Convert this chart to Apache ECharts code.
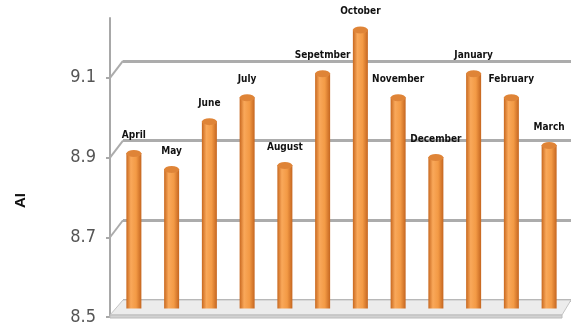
<!DOCTYPE html>
<html>
<head>
<meta charset="utf-8">
<script src="https://cdn.jsdelivr.net/npm/echarts@6/dist/echarts.min.js"></script>
<style>
  html, body { margin: 0; padding: 0; background: #fff; }
  #chart { width: 571px; height: 333px; }
</style>
</head>
<body>
<div id="chart"></div>
<script>
const months = ['April', 'May', 'June', 'July', 'August', 'Sepetmber', 'October',
  'November', 'December', 'January', 'February', 'March']
const aiValues = [8.89, 8.85, 8.97, 9.03, 8.86, 9.09, 9.20, 9.03, 8.88, 9.09, 9.03, 8.91]
const tickValues = [8.5, 8.7, 8.9, 9.1]

const yMin = 8.5
const yMax = 9.25
// depth of the fake 3d box, in pixels
const depthX = 13
const depthY = -17
const narrow = '"DejaVu Sans Condensed", "Liberation Sans Narrow", "Liberation Sans", sans-serif'

const chart = echarts.init(document.getElementById('chart'))

function valueAxis(gridIndex, extra) {
  return Object.assign({
    type: 'value',
    gridIndex: gridIndex,
    min: yMin,
    max: yMax,
    interval: 0.2,
    axisLine: { show: false },
    axisTick: { show: false },
    axisLabel: { show: false },
    splitLine: { show: false }
  }, extra)
}

chart.setOption({
  animation: false,
  grid: [
    // front plane (axis + floor edge)
    { left: 110, right: 0, top: 18, bottom: 16 },
    // middle plane (bars)
    { left: 115, right: 3, top: 18 + depthY / 2, bottom: 16 - depthY / 2 },
    // back wall (gridlines)
    { left: 110 + depthX, right: 0, top: 18 + depthY, bottom: 16 - depthY }
  ],
  xAxis: [
    { type: 'category', gridIndex: 0, data: months, show: false },
    { type: 'category', gridIndex: 1, data: months, show: false },
    { type: 'category', gridIndex: 2, data: months, show: false }
  ],
  yAxis: [
    valueAxis(0, {
      axisLine: { show: true, lineStyle: { color: '#a8a8a8', width: 2 } },
      axisTick: { show: true, length: 4, lineStyle: { color: '#a8a8a8', width: 2 } },
      axisLabel: {
        show: true,
        showMaxLabel: false,
        margin: 14,
        color: '#555',
        fontFamily: narrow,
        fontSize: 18,
        formatter: (v) => v.toFixed(1)
      }
    }),
    valueAxis(1),
    valueAxis(2, {
      splitLine: {
        show: true,
        showMinLine: true,
        showMaxLine: false,
        lineStyle: { color: '#acacac', width: 3 }
      }
    })
  ],
  graphic: [
    {
      type: 'text',
      left: 13,
      top: 193,
      rotation: Math.PI / 2,
      style: {
        text: 'AI',
        fill: '#111',
        font: 'bold 15px "Liberation Sans", Arial, sans-serif'
      }
    }
  ],
  series: [
    {
      // box frame: floor slab and diagonal tick connectors
      type: 'custom',
      xAxisIndex: 0,
      yAxisIndex: 0,
      data: tickValues.map((v) => [0, v]),
      silent: true,
      clip: false,
      z: 1,
      renderItem: function (params, api) {
        const cs = params.coordSys
        const v = api.value(1)
        const y = api.coord([0, v])[1]
        const x0 = cs.x
        if (v === yMin) {
          const x1 = cs.x + cs.width
          return {
            type: 'group',
            children: [
              {
                type: 'polygon',
                shape: { points: [[x0, y - 2], [x0 + depthX, y + depthY], [x1, y + depthY], [x1 - depthX + 4, y - 2]] },
                style: { fill: '#ececec', stroke: '#c4c4c4', lineWidth: 1 }
              },
              {
                type: 'polygon',
                shape: { points: [[x0, y - 2], [x1 - depthX + 4, y - 2], [x1 - depthX + 4, y + 1], [x0, y + 1]] },
                style: { fill: '#d2d2d2', stroke: '#bcbcbc', lineWidth: 1 }
              }
            ]
          }
        }
        return {
          type: 'line',
          shape: { x1: x0, y1: y, x2: x0 + depthX, y2: y + depthY },
          style: { stroke: '#acacac', lineWidth: 2 }
        }
      }
    },
    {
      // shadows on the floor
      type: 'pictorialBar',
      xAxisIndex: 1,
      yAxisIndex: 1,
      data: aiValues.map(() => yMin),
      symbol: 'roundRect',
      symbolSize: [24, 4],
      symbolOffset: [3, 0],
      symbolPosition: 'start',
      itemStyle: { color: 'rgba(140,140,140,0.55)' },
      silent: true,
      z: 2
    },
    {
      type: 'bar',
      xAxisIndex: 1,
      yAxisIndex: 1,
      data: aiValues,
      barWidth: 15,
      z: 3,
      itemStyle: {
        color: new echarts.graphic.LinearGradient(0, 0, 1, 0, [
          { offset: 0, color: '#c8681f' },
          { offset: 0.3, color: '#f9a85a' },
          { offset: 0.65, color: '#f39a45' },
          { offset: 1, color: '#c56620' }
        ])
      },
      label: {
        show: true,
        position: 'top',
        distance: 13,
        formatter: '{b}',
        color: '#111',
        fontWeight: 'bold',
        fontSize: 10,
        fontFamily: narrow
      }
    },
    {
      // cylinder caps
      type: 'pictorialBar',
      xAxisIndex: 1,
      yAxisIndex: 1,
      data: aiValues,
      symbol: 'circle',
      symbolSize: [15, 7],
      symbolPosition: 'end',
      symbolOffset: [0, '-50%'],
      z: 4,
      itemStyle: { color: '#df8437', borderColor: '#fde3c6', borderWidth: 1.5 },
      silent: true
    }
  ]
})
</script>
</body>
</html>
